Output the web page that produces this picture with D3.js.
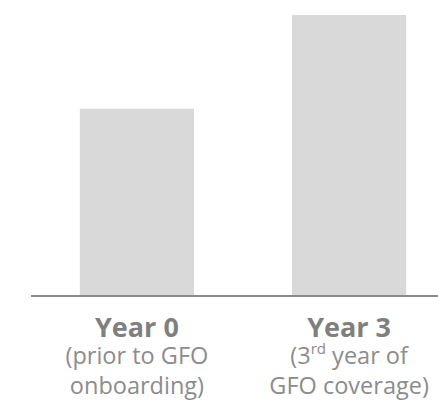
<!DOCTYPE html>
<html>
<head>
<meta charset="utf-8">
<script src="https://cdn.jsdelivr.net/npm/d3@7"></script>
<style>
  body { margin: 0; background: #fff; }
  text { font-family: "Open Sans", "Noto Sans", sans-serif; }
</style>
</head>
<body>
<div id="chart"></div>
<script>
const categories = ["Year 0", "Year 3"];
const values = [1.0, 1.5];
// subtitle lines, each line is a list of [text, isSuperscript]
const subtitles = [
    [[["(prior to GFO", false]], [["onboarding)", false]]],
    [[["(3", false], ["rd", true], [" year of", false]], [["GFO coverage)", false]]]
];

const width = 438, height = 408;
const axisY = 296;

const svg = d3.select("#chart").append("svg")
    .attr("width", width)
    .attr("height", height);

const xScale = d3.scaleBand()
    .domain(categories)
    .range([48, 438])
    .paddingInner(0.462)
    .paddingOuter(0.15);

const yScale = d3.scaleLinear()
    .domain([0, 1.5])
    .range([axisY, 15]);

svg.selectAll("rect.bar")
    .data(values)
    .join("rect")
    .attr("class", "bar")
    .attr("x", (d, i) => xScale(categories[i]))
    .attr("y", d => yScale(d))
    .attr("width", xScale.bandwidth())
    .attr("height", d => axisY - yScale(d))
    .attr("fill", "#d9d9d9");

// baseline
svg.append("line")
    .attr("x1", 31).attr("x2", width)
    .attr("y1", axisY).attr("y2", axisY)
    .attr("stroke", "#8a8a8a")
    .attr("stroke-width", 2);

const labels = svg.selectAll("g.label")
    .data(categories)
    .join("g")
    .attr("class", "label")
    .attr("transform", d => `translate(${xScale(d) + xScale.bandwidth() / 2}, 0)`);

labels.append("text")
    .attr("y", 337)
    .attr("text-anchor", "middle")
    .attr("font-size", 27)
    .attr("font-weight", "bold")
    .attr("fill", "#7f7f7f")
    .text(d => d);

labels.each(function(d, i) {
    const g = d3.select(this);
    subtitles[i].forEach((line, j) => {
        const t = g.append("text")
            .attr("y", 364 + j * 30)
            .attr("text-anchor", "middle")
            .attr("font-size", 23.5)
            .attr("fill", "#8c8c8c");
        line.forEach(([s, sup]) => {
            const ts = t.append("tspan").text(s);
            if (sup) ts.attr("font-size", 15).attr("baseline-shift", "super");
        });
    });
});
</script>
</body>
</html>
